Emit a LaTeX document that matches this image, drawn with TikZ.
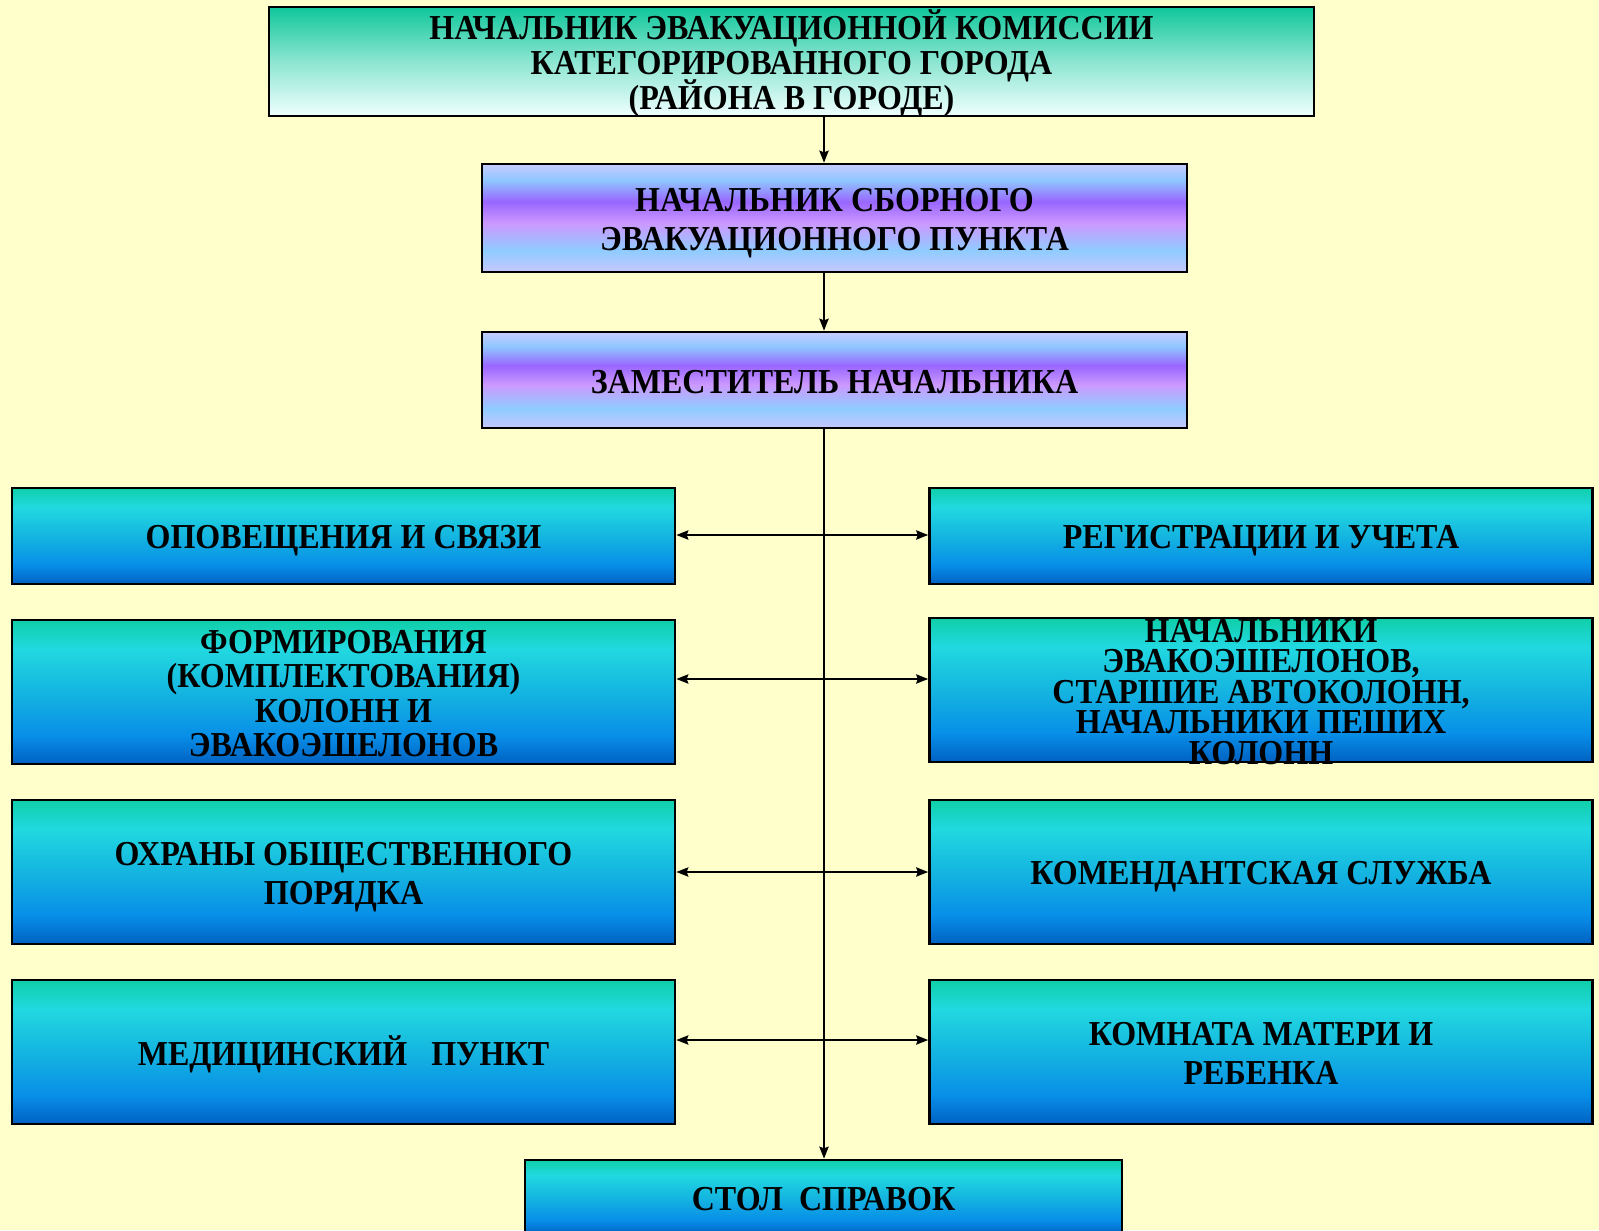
\documentclass[tikz,border=0pt]{standalone}
\usepackage{fontspec}
\setmainfont{Liberation Serif}[FakeStretch=0.915]
\usetikzlibrary{arrows.meta}
\definecolor{bgyellow}{RGB}{255,255,204}
\pgfdeclareverticalshading{cyanshade}{100bp}{%
  rgb(0bp)=(0,0.38,0.76); rgb(25bp)=(0,0.38,0.76); rgb(35bp)=(0.03,0.56,0.91);
  rgb(50bp)=(0.08,0.71,0.88); rgb(65bp)=(0.13,0.85,0.88); rgb(75bp)=(0.06,0.81,0.66); rgb(100bp)=(0.06,0.81,0.66)}
\pgfdeclareverticalshading{purpleshade}{100bp}{%
  rgb(0bp)=(0.78,0.78,1); rgb(25bp)=(0.78,0.78,1); rgb(35bp)=(0.56,0.80,1);
  rgb(47.5bp)=(0.80,0.60,1); rgb(57.5bp)=(0.60,0.40,1); rgb(67.5bp)=(0.56,0.78,1);
  rgb(75bp)=(0.78,0.80,1); rgb(100bp)=(0.78,0.80,1)}
\pgfdeclareverticalshading{greenshade}{100bp}{%
  rgb(0bp)=(0.94,1,1); rgb(25bp)=(0.94,1,1); rgb(50bp)=(0.55,0.90,0.82);
  rgb(75bp)=(0.06,0.78,0.61); rgb(100bp)=(0.06,0.78,0.61)}
\newcommand{\boxfont}[1]{\bfseries\fontsize{17.5}{#1}\selectfont\lineskiplimit=-30pt\relax}
\tikzset{
  box/.style={draw=black, line width=1.3pt, rectangle, inner sep=0pt},
  txt/.style={align=center, inner sep=0pt, font=\boxfont{17.7}},
  cyanbox/.style={box, shading=cyanshade, minimum width=331.5pt},
  purplebox/.style={box, shading=purpleshade, minimum width=352.5pt},
  greenbox/.style={box, shading=greenshade},
  conn/.style={line width=1pt, -{Stealth[length=6pt,width=4.6pt,inset=0.8pt]}},
  dconn/.style={line width=1pt, {Stealth[length=6pt,width=4.6pt,inset=0.8pt]}-{Stealth[length=6pt,width=4.6pt,inset=0.8pt]}},
}
\begin{document}
\begin{tikzpicture}[x=0.5pt,y=-0.5pt]
\useasboundingbox (0,0) rectangle (1599,1230);
\clip (0,0) rectangle (1599,1230);
\fill[bgyellow] (0,0) rectangle (1599,1230);

\node[greenbox, minimum width=522.5pt, minimum height=54.5pt,
  label={[txt, yshift=-1pt, font=\boxfont{17.4}]center:{НАЧАЛЬНИК ЭВАКУАЦИОННОЙ КОМИССИИ\\КАТЕГОРИРОВАННОГО ГОРОДА\\(РАЙОНА В ГОРОДЕ)}}] (top) at (791.5,61.5) {};
\node[purplebox, minimum height=54pt,
  label={[txt, yshift=-2.6pt, font=\boxfont{19.4}]center:{НАЧАЛЬНИК СБОРНОГО\\ЭВАКУАЦИОННОГО ПУНКТА}}] (b2) at (834.5,218) {};
\node[purplebox, minimum height=48pt,
  label={[txt, yshift=-1pt]center:{ЗАМЕСТИТЕЛЬ НАЧАЛЬНИКА}}] (b3) at (834.5,380) {};

\node[cyanbox, minimum height=48pt,
  label={[txt, yshift=-2.5pt]center:{ОПОВЕЩЕНИЯ И СВЯЗИ}}] (L1) at (343.5,536) {};
\node[cyanbox, minimum height=48pt,
  label={[txt, yshift=-2.5pt]center:{РЕГИСТРАЦИИ И УЧЕТА}}] (R1) at (1261,536) {};
\node[cyanbox, minimum height=72pt,
  label={[txt, yshift=-0.8pt, font=\boxfont{17.2}]center:{ФОРМИРОВАНИЯ\\(КОМПЛЕКТОВАНИЯ)\\КОЛОНН И\\ЭВАКОЭШЕЛОНОВ}}] (L2) at (343.5,692) {};
\node[cyanbox, minimum height=72pt,
  label={[txt, yshift=-1pt, font=\boxfont{15.3}]center:{НАЧАЛЬНИКИ\\ЭВАКОЭШЕЛОНОВ,\\СТАРШИЕ АВТОКОЛОНН,\\НАЧАЛЬНИКИ ПЕШИХ\\КОЛОНН}}] (R2) at (1261,690) {};
\node[cyanbox, minimum height=72pt,
  label={[txt, yshift=-2.5pt, font=\boxfont{19.4}]center:{ОХРАНЫ ОБЩЕСТВЕННОГО\\ПОРЯДКА}}] (L3) at (343.5,872) {};
\node[cyanbox, minimum height=72pt,
  label={[txt, yshift=-2.5pt]center:{КОМЕНДАНТСКАЯ СЛУЖБА}}] (R3) at (1261,872) {};
\node[cyanbox, minimum height=72pt,
  label={[txt, yshift=-1pt]center:{МЕДИЦИНСКИЙ \ \ ПУНКТ}}] (L4) at (343.5,1052) {};
\node[cyanbox, minimum height=72pt,
  label={[txt, yshift=-0.5pt, font=\boxfont{19.5}]center:{КОМНАТА МАТЕРИ И\\РЕБЕНКА}}] (R4) at (1261,1052) {};
\node[cyanbox, minimum width=298.5pt, minimum height=37.5pt,
  label={[txt, yshift=-1pt]center:{СТОЛ \ СПРАВОК}}] (bot) at (823.5,1197.5) {};

\coordinate (sp) at (824,0);
\coordinate (a1) at (824,535);
\coordinate (a2) at (824,679);
\coordinate (a3) at (824,872);
\coordinate (a4) at (824,1040);

\draw[conn] (top.south -| sp) -- (b2.north -| sp);
\draw[conn] (b2.south -| sp) -- (b3.north -| sp);
\draw[conn] (b3.south -| sp) -- (bot.north -| sp);
\draw[dconn] (L1.east |- a1) -- (R1.west |- a1);
\draw[dconn] (L2.east |- a2) -- (R2.west |- a2);
\draw[dconn] (L3.east |- a3) -- (R3.west |- a3);
\draw[dconn] (L4.east |- a4) -- (R4.west |- a4);
\end{tikzpicture}
\end{document}
